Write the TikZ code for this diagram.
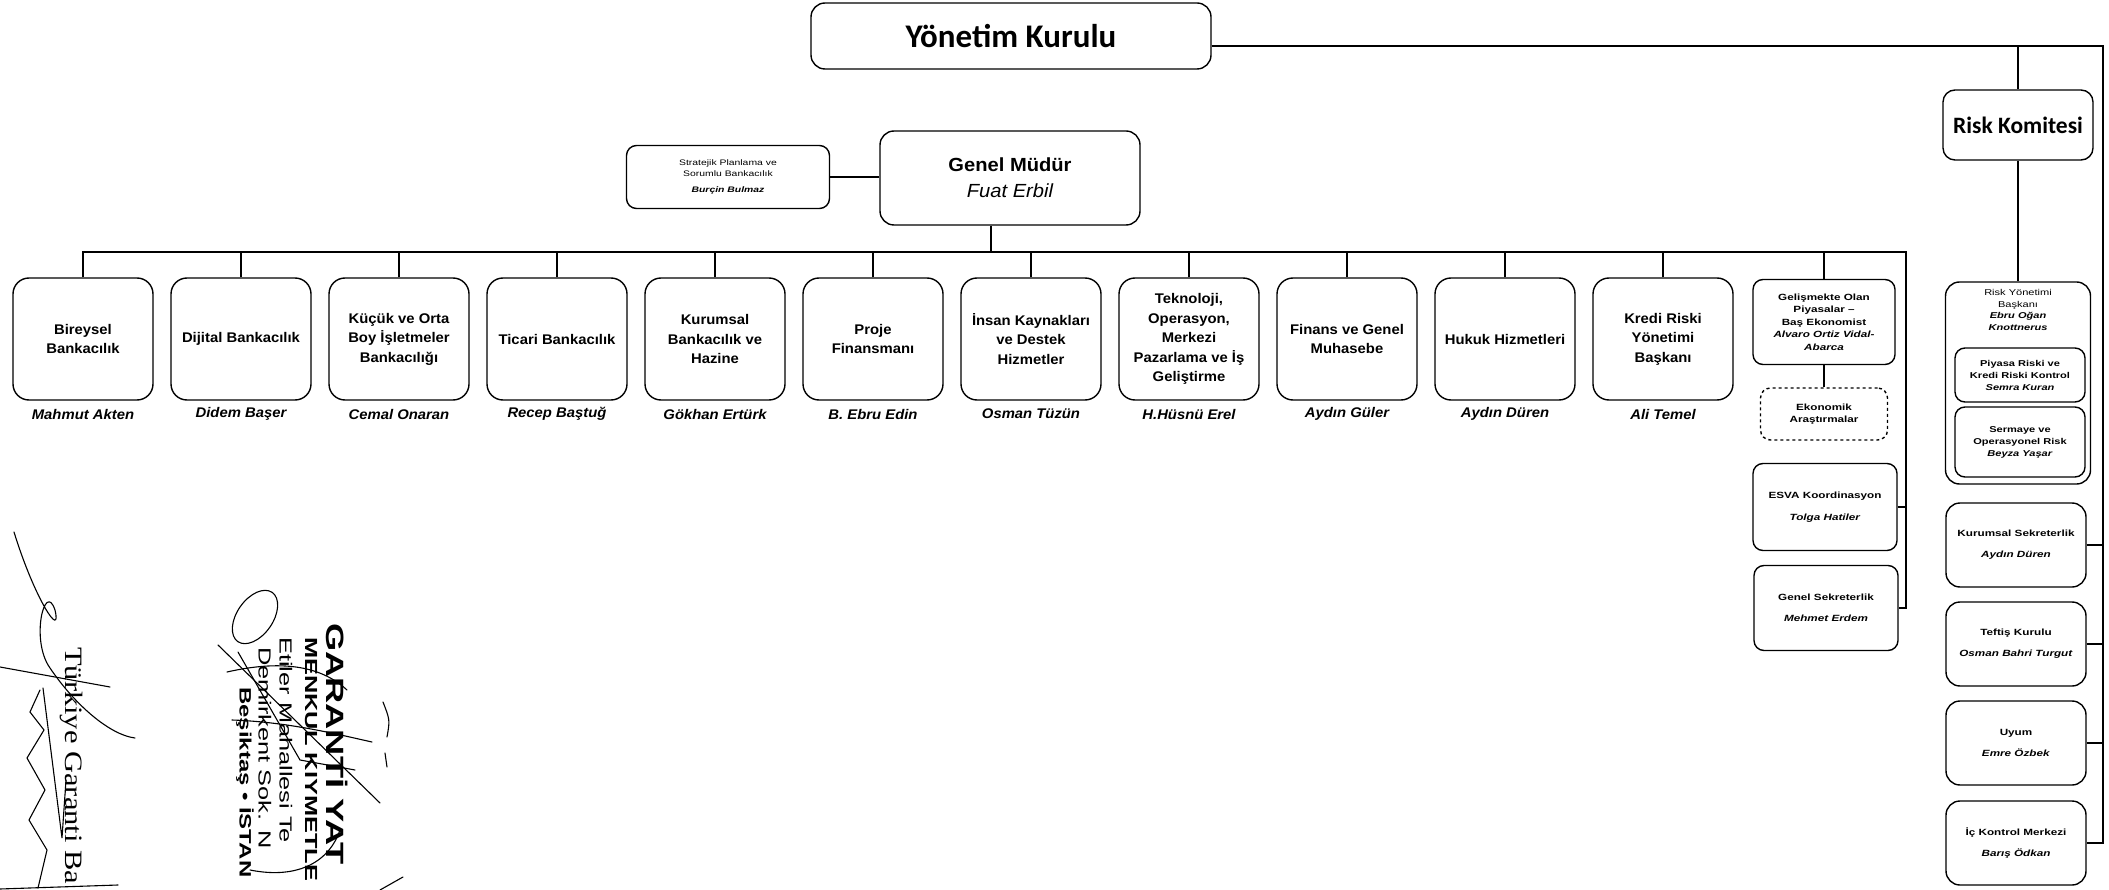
\documentclass[tikz,border=0pt]{standalone}
\usepackage{fontspec}
\setmainfont{Liberation Sans}[FakeStretch=1.06]
\newfontfamily\smallface{Liberation Sans}[FakeStretch=1.3]
\newfontfamily\calibri{Carlito}
\newfontfamily\stampface{Liberation Serif}[FakeStretch=1.22]
\newfontfamily\stampsans{Liberation Sans}[FakeStretch=1.45]
\usepackage{tikz}

\begin{document}
\begin{tikzpicture}[x=1pt, y=-1pt,
    box/.style={draw, line width=1.4pt, rounded corners=14pt, align=center, inner sep=1pt},
    unit/.style={box, minimum width=140pt, minimum height=122pt, rounded corners=16pt,
        font=\fontsize{14}{19.5}\selectfont\bfseries},
    who/.style={font=\fontsize{14}{16}\selectfont\bfseries\itshape},
    note/.style={box, rounded corners=10pt, font=\smallface\fontsize{9}{12.5}\selectfont\bfseries},
    side/.style={box, minimum width=140pt, minimum height=84pt,
        font=\smallface\fontsize{9}{21}\selectfont\bfseries},
    link/.style={line width=1.4pt},
    stamp/.style={rotate=-90, anchor=west, inner sep=0pt},
    ink/.style={line width=1.1pt, line cap=round}]
        \useasboundingbox (0,0) rectangle (2109,890);
        \fill[white] (0,0) rectangle (2109,890);

        % Board, general manager, committee.
        \path (1011,36) node[box, minimum width=400pt, minimum height=66pt,
                font=\calibri\fontsize{33}{36}\selectfont\bfseries] (yk) {Yönetim Kurulu}
            (1010,178) node[box, minimum width=260pt, minimum height=94pt,
                font=\fontsize{19}{26}\selectfont\bfseries] (gm) {Genel Müdür\\\mdseries\itshape Fuat Erbil}
            (728,177) node[note, minimum width=203pt, minimum height=63pt, font=\smallface\fontsize{8}{11}\selectfont]
                (strat) {Stratejik Planlama ve\\Sorumlu Bankacılık\\[5pt]\textbf{\textit{Burçin Bulmaz}}}
            (2018,125) node[box, minimum width=150pt, minimum height=70pt, rounded corners=12pt,
                font=\calibri\fontsize{23.5}{25}\selectfont\bfseries] (rk) {Risk Komitesi};

        % Units under the general manager.
        \path (83,339) node[unit] (bireysel) {Bireysel\\Bankacılık}
            (241,339) node[unit] (dijital) {Dijital Bankacılık}
            (399,339) node[unit] (kobi) {Küçük ve Orta\\Boy İşletmeler\\Bankacılığı}
            (557,339) node[unit] (ticari) {Ticari Bankacılık}
            (715,339) node[unit] (kurumsal) {Kurumsal\\Bankacılık ve\\Hazine}
            (873,339) node[unit] (proje) {Proje\\Finansmanı}
            (1031,339) node[unit] (ik) {İnsan Kaynakları\\ve Destek\\Hizmetler}
            (1189,339) node[unit] (tekno) {Teknoloji,\\Operasyon,\\Merkezi\\Pazarlama ve İş\\Geliştirme}
            (1347,339) node[unit] (finans) {Finans ve Genel\\Muhasebe}
            (1505,339) node[unit] (hukuk) {Hukuk Hizmetleri}
            (1663,339) node[unit] (kredi) {Kredi Riski\\Yönetimi\\Başkanı};

        \path (83,414) node[who] (n-bireysel) {Mahmut Akten}
            (241,414) node[who] (n-dijital) {Didem Başer}
            (399,414) node[who] (n-kobi) {Cemal Onaran}
            (557,414) node[who] (n-ticari) {Recep Baştuğ}
            (715,414) node[who] (n-kurumsal) {Gökhan Ertürk}
            (873,414) node[who] (n-proje) {B. Ebru Edin}
            (1031,414) node[who] (n-ik) {Osman Tüzün}
            (1189,414) node[who] (n-tekno) {H.Hüsnü Erel}
            (1347,414) node[who] (n-finans) {Aydın Güler}
            (1505,414) node[who] (n-hukuk) {Aydın Düren}
            (1663,414) node[who] (n-kredi) {Ali Temel};

        % Right hand column of the general manager.
        \path (1824,322) node[note, minimum width=142pt, minimum height=85pt] (gop)
                {Gelişmekte Olan\\Piyasalar –\\Baş Ekonomist\\\textit{Alvaro Ortiz Vidal-}\\\textit{Abarca}}
            (1824,414) node[note, dashed, minimum width=127pt, minimum height=52pt] (ekon) {Ekonomik\\Araştırmalar}
            (1825,507) node[note, minimum width=144pt, minimum height=87pt] (esva) {ESVA Koordinasyon\\[9pt]\textit{Tolga Hatiler}}
            (1826,608) node[note, minimum width=144pt, minimum height=85pt] (gs) {Genel Sekreterlik\\[9pt]\textit{Mehmet Erdem}};

        % Board side.
        \path (2018,383) node[box, minimum width=145pt, minimum height=202pt] (ryb) {}
            (2018,310) node[font=\smallface\fontsize{8.5}{11.5}\selectfont\bfseries, align=center] (ryb-text)
                {\mdseries Risk Yönetimi\\\mdseries Başkanı\\\textit{Ebru Oğan}\\\textit{Knottnerus}}
            (2020,375) node[note, minimum width=130pt, minimum height=54pt, font=\smallface\fontsize{8.5}{12}\selectfont\bfseries] (piyasa)
                {Piyasa Riski ve\\Kredi Riski Kontrol\\\textit{Semra Kuran}}
            (2020,442) node[note, minimum width=130pt, minimum height=70pt, font=\smallface\fontsize{8.5}{12}\selectfont\bfseries] (sermaye)
                {Sermaye ve\\Operasyonel Risk\\\textit{Beyza Yaşar}}
            (2016,545) node[side] (kurs) {Kurumsal Sekreterlik\\\textit{Aydın Düren}}
            (2016,644) node[side] (teftis) {Teftiş Kurulu\\\textit{Osman Bahri Turgut}}
            (2016,743) node[side] (uyum) {Uyum\\\textit{Emre Özbek}}
            (2016,843) node[side] (ick) {İç Kontrol Merkezi\\\textit{Barış Ödkan}};

        % Reporting lines.
        \coordinate (rail) at (2103,46);
        \coordinate (bus) at (1906,252);
        \coordinate (gmdrop) at (991,252);
        \draw[link] (rail -| yk.east) -- (rail) -- (rail |- ick.east) -- (ick.east);
        \draw[link] (kurs.east) -- (kurs.east -| rail);
        \draw[link] (teftis.east) -- (teftis.east -| rail);
        \draw[link] (uyum.east) -- (uyum.east -| rail);
        \draw[link] (rk.north |- rail) -- (rk.north);
        \draw[link] (rk.south) -- (ryb.north);
        \draw[link] (strat.east) -- (strat.east -| gm.west);
        \draw[link] (gmdrop |- gm.south) -- (gmdrop);
        \draw[link] (bireysel.north) |- (bus) -- (bus |- gs.east) -- (gs.east);
        \draw[link] (esva.east) -- (esva.east -| bus);
        \draw[link] (dijital.north) -- (dijital.north |- bus);
        \draw[link] (kobi.north) -- (kobi.north |- bus);
        \draw[link] (ticari.north) -- (ticari.north |- bus);
        \draw[link] (kurumsal.north) -- (kurumsal.north |- bus);
        \draw[link] (proje.north) -- (proje.north |- bus);
        \draw[link] (ik.north) -- (ik.north |- bus);
        \draw[link] (tekno.north) -- (tekno.north |- bus);
        \draw[link] (finans.north) -- (finans.north |- bus);
        \draw[link] (hukuk.north) -- (hukuk.north |- bus);
        \draw[link] (kredi.north) -- (kredi.north |- bus);
        \draw[link] (gop.north) -- (gop.north |- bus);
        \draw[link] (gop.south) -- (ekon.north);

        % Stamps and signatures.
        \begin{scope}
            \clip (0,0) rectangle (2109,890);
            \path (71,647) node[stamp, font=\stampface\fontsize{25}{27}\selectfont] (stamp-bank) {Türkiye Garanti Ba}
                (337,623) node[stamp, font=\stampsans\fontsize{25}{27}\selectfont\bfseries] (stamp-1) {GARANTİ YAT}
                (311,637) node[stamp, font=\stampsans\fontsize{17.5}{19}\selectfont\bfseries] (stamp-2) {MENKUL KIYMETLE}
                (286,637) node[stamp, font=\stampsans\fontsize{17.5}{19}\selectfont] (stamp-3) {Etiler Mahallesi Te}
                (265,647) node[stamp, font=\stampsans\fontsize{17.5}{19}\selectfont] (stamp-4) {Demirkent Sok. N}
                (245,687) node[stamp, font=\stampsans\fontsize{16.5}{18}\selectfont\bfseries] (stamp-5) {Beşiktaş • İSTAN};
            \draw[ink] (14,532) .. controls (35,600) and (62,640) .. (55,610)
                .. controls (45,580) and (30,640) .. (50,668) .. controls (75,705) and (110,735) .. (135,738);
            \draw[ink] (0,667) -- (110,687);
            \draw[ink] (40,690) -- (30,712) -- (44,730) -- (27,758) -- (45,790) -- (29,820) -- (47,850) -- (38,888);
            \draw[ink] (43,688) -- (62,838) -- (66,780);
            \draw[ink] (0,889) -- (118,885);
            \draw[ink, rotate around={55:(255,617)}] (255,617) ellipse (30 and 18);
            \draw[ink] (218,645) -- (380,803);
            \draw[ink] (227,672) .. controls (280,660) and (320,665) .. (347,690);
            \draw[ink] (232,720) .. controls (290,722) and (340,735) .. (372,742);
            \draw[ink] (238,652) -- (300,760) -- (355,770);
            \draw[ink] (383,702) .. controls (390,720) .. (387,737);
            \draw[ink] (385,753) -- (387,767);
            \draw[ink] (380,890) -- (403,877);
            \draw[ink] (250,870) .. controls (300,880) and (330,860) .. (340,830);
        \end{scope}
    \end{tikzpicture}
\end{document}
